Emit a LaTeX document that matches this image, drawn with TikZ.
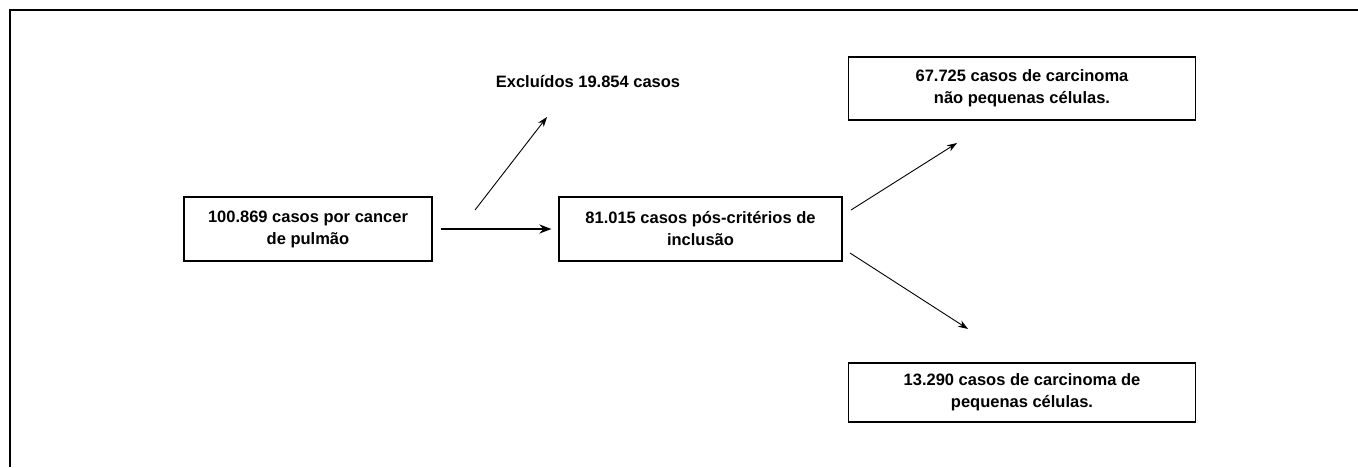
\documentclass[tikz,border=0pt]{standalone}
\usepackage{fontspec}
\setmainfont{Liberation Sans}
\usetikzlibrary{arrows.meta,positioning}

\begin{document}
\begin{tikzpicture}[x=1pt,y=-1pt,
    caixa/.style={draw=black, line width=1.1pt, align=center, inner sep=0pt,
      font=\fontsize{16.5}{22}\selectfont\bfseries, minimum width=347pt, minimum height=63pt},
    rotulo/.style={font=\fontsize{16.5}{22}\selectfont\bfseries, inner sep=0pt},
    setafina/.style={-{Stealth[length=10pt,width=7pt]}, line width=0.9pt},
    setagrossa/.style={-{Stealth[length=12pt,width=9pt]}, line width=2.6pt}
]
    \useasboundingbox (0,0) rectangle (1358,467);
    % moldura (cortada a direita e embaixo)
    \draw[line width=2.8pt] (10,467) -- (10,10) -- (1358,10);

    \node[caixa, minimum width=248pt, minimum height=64pt] (total) at (308,229)
        {100.869 casos por cancer\\de pulmão};
    \node[caixa, minimum width=283pt, minimum height=64pt] (incl) at (700.5,229)
        {81.015 casos pós-critérios de\\inclusão};
    \node[caixa] (nsclc) at (1022,88.5)
        {67.725 casos de carcinoma\\não pequenas células.};
    \node[caixa, minimum height=59pt] (sclc) at (1022,392.5)
        {13.290 casos de carcinoma de\\pequenas células.};
    \node[rotulo] (excl) at (588,82) {Excluídos 19.854 casos};

    % pontas livres das setas
    \coordinate (exini) at (475,210);
    \coordinate (exfim) at (547,117);
    \coordinate (supini) at (851,210);
    \coordinate (supfim) at (957,143);
    \coordinate (infini) at (850,253);
    \coordinate (inffim) at (968,329);

    \draw[setagrossa, shorten <=8pt, shorten >=7pt] (total.east) -- (incl.west);
    \draw[setafina] (exini) -- (exfim);
    \draw[setafina] (supini) -- (supfim);
    \draw[setafina] (infini) -- (inffim);
\end{tikzpicture}
\end{document}
